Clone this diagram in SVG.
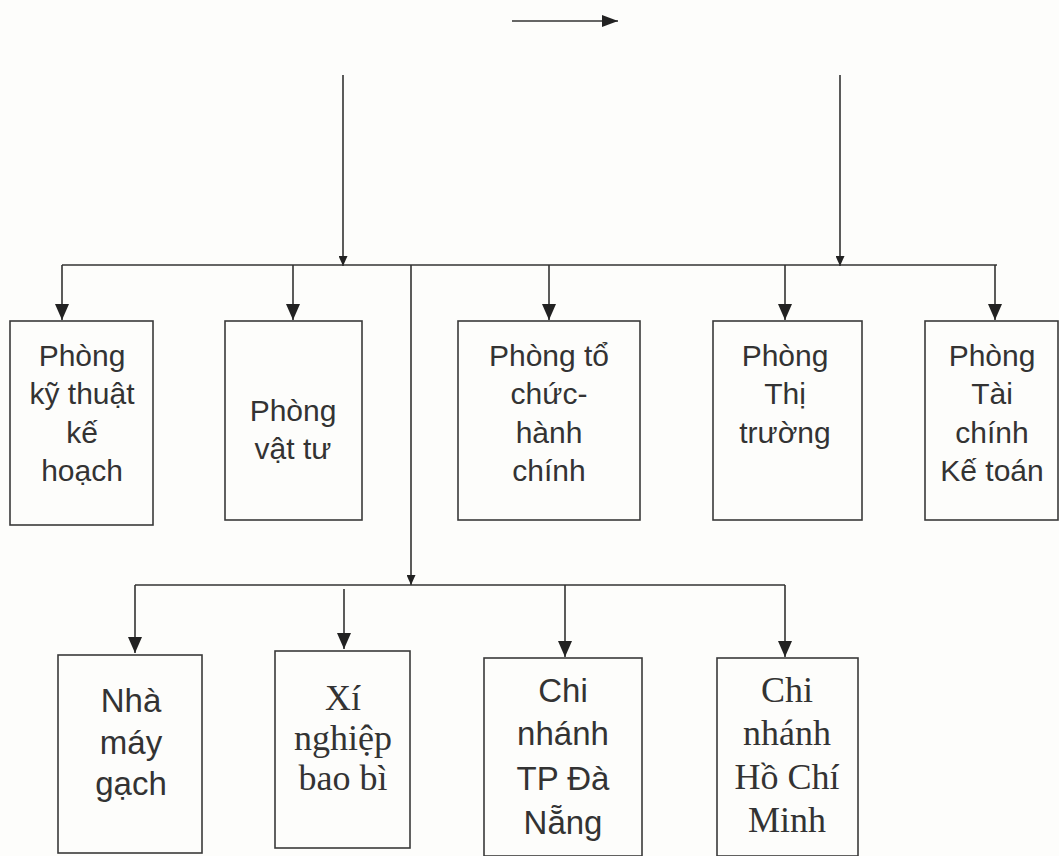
<svg xmlns="http://www.w3.org/2000/svg" width="1059" height="856" viewBox="0 0 1059 856">
<defs>
<style>
.bg{fill:#fdfdfb}
.box{fill:none;stroke:#3a3a3a;stroke-width:1.6}
.ln{fill:none;stroke:#333;stroke-width:1.6}
.s{font-family:"Liberation Sans",Arial,sans-serif;font-size:30px;fill:#333;text-anchor:middle}
.sb{font-family:"Liberation Sans",Arial,sans-serif;font-size:33px;fill:#333;text-anchor:middle}
.t{font-family:"Liberation Serif","Times New Roman",serif;font-size:36px;fill:#333;text-anchor:middle}
</style>
<marker id="ah" markerWidth="14" markerHeight="16" refX="7" refY="16" markerUnits="userSpaceOnUse" viewBox="0 0 14 16">
<path d="M0,0 L14,0 L7,16 Z" fill="#222"/>
</marker>
<marker id="as" markerWidth="9" markerHeight="10" refX="4.5" refY="10" markerUnits="userSpaceOnUse" viewBox="0 0 9 10">
<path d="M0,0 L9,0 L4.5,10 Z" fill="#222"/>
</marker>
<marker id="ar" markerWidth="16" markerHeight="12" refX="16" refY="6" markerUnits="userSpaceOnUse" viewBox="0 0 16 12">
<path d="M0,0 L16,6 L0,12 Z" fill="#222"/>
</marker>
</defs>
<rect class="bg" x="0" y="0" width="1059" height="856"/>
<g id="connectors">
<line class="ln" x1="512" y1="21" x2="618" y2="21" marker-end="url(#ar)"/>
<line class="ln" x1="343" y1="75" x2="343" y2="266" marker-end="url(#as)"/>
<line class="ln" x1="840" y1="75" x2="840" y2="266" marker-end="url(#as)"/>
<line class="ln" x1="62" y1="265" x2="997" y2="265"/>
<line class="ln" x1="62" y1="265" x2="62" y2="320" marker-end="url(#ah)"/>
<line class="ln" x1="293" y1="265" x2="293" y2="320" marker-end="url(#ah)"/>
<line class="ln" x1="549" y1="265" x2="549" y2="320" marker-end="url(#ah)"/>
<line class="ln" x1="785" y1="265" x2="785" y2="320" marker-end="url(#ah)"/>
<line class="ln" x1="995" y1="265" x2="995" y2="320" marker-end="url(#ah)"/>
<line class="ln" x1="411" y1="265" x2="411" y2="585" marker-end="url(#as)"/>
<line class="ln" x1="135" y1="585" x2="785" y2="585"/>
<line class="ln" x1="135" y1="585" x2="135" y2="653" marker-end="url(#ah)"/>
<line class="ln" x1="344" y1="589" x2="344" y2="649" marker-end="url(#ah)"/>
<line class="ln" x1="565" y1="585" x2="565" y2="657" marker-end="url(#ah)"/>
<line class="ln" x1="785" y1="585" x2="785" y2="657" marker-end="url(#ah)"/>
</g>
<g id="n1"><rect class="box" x="10" y="321" width="143" height="204"/>
<text class="s" x="82" y="366">Phòng</text><text class="s" x="82" y="404">kỹ thuật</text><text class="s" x="82" y="443">kế</text><text class="s" x="82" y="481">hoạch</text></g>
<g id="n2"><rect class="box" x="225" y="321" width="137" height="199"/>
<text class="s" x="293" y="421">Phòng</text><text class="s" x="293" y="459">vật tư</text></g>
<g id="n3"><rect class="box" x="458" y="321" width="182" height="199"/>
<text class="s" x="549" y="366">Phòng tổ</text><text class="s" x="549" y="404">chức-</text><text class="s" x="549" y="443">hành</text><text class="s" x="549" y="481">chính</text></g>
<g id="n4"><rect class="box" x="713" y="321" width="149" height="199"/>
<text class="s" x="785" y="366">Phòng</text><text class="s" x="785" y="404">Thị</text><text class="s" x="785" y="443">trường</text></g>
<g id="n5"><rect class="box" x="925" y="321" width="133" height="199"/>
<text class="s" x="992" y="366">Phòng</text><text class="s" x="992" y="404">Tài</text><text class="s" x="992" y="443">chính</text><text class="s" x="992" y="481">Kế toán</text></g>
<g id="n6"><rect class="box" x="58" y="655" width="144" height="198"/>
<text class="sb" x="131" y="712">Nhà</text><text class="sb" x="131" y="754">máy</text><text class="sb" x="131" y="795">gạch</text></g>
<g id="n7"><rect class="box" x="275" y="651" width="135" height="197"/>
<text class="t" x="343" y="710">Xí</text><text class="t" x="343" y="750">nghiệp</text><text class="t" x="343" y="790">bao bì</text></g>
<g id="n8"><rect class="box" x="484" y="658" width="158" height="198"/>
<text class="sb" x="563" y="702">Chi</text><text class="sb" x="563" y="745">nhánh</text><text class="sb" x="563" y="790">TP Đà</text><text class="sb" x="563" y="834">Nẵng</text></g>
<g id="n9"><rect class="box" x="717" y="658" width="141" height="198"/>
<text class="t" x="787" y="702">Chi</text><text class="t" x="787" y="745">nhánh</text><text class="t" x="787" y="789">Hồ Chí</text><text class="t" x="787" y="832">Minh</text></g>
</svg>
